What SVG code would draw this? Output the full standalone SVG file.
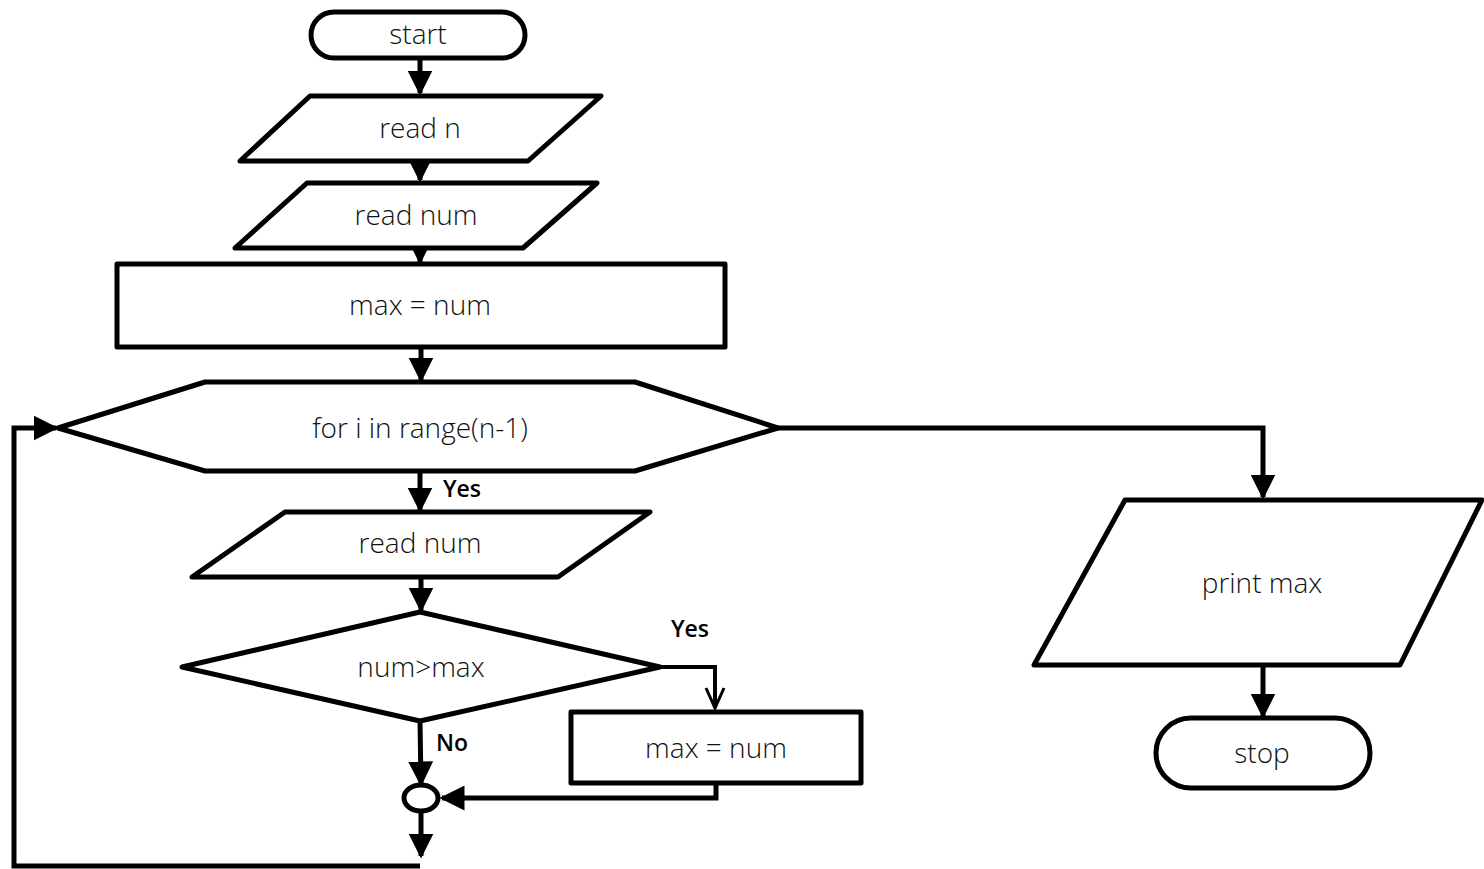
<svg xmlns="http://www.w3.org/2000/svg" width="1484" height="869" viewBox="0 0 1484 869">
<style>
.s{fill:#fff;stroke:#000;stroke-width:5;stroke-linejoin:round}
.c{fill:none;stroke:#000;stroke-width:5;stroke-linejoin:miter}
.t{font-family:"Open Sans","Noto Sans",sans-serif;font-size:28px;font-weight:300;fill:#111;text-anchor:middle;dominant-baseline:central}
.l{font-family:"Open Sans","Noto Sans",sans-serif;font-size:23px;font-weight:600;fill:#000}
</style>
<defs>
<marker id="a" markerWidth="5" markerHeight="5" refX="4.5" refY="2.5" orient="auto" markerUnits="strokeWidth">
<path d="M0,0 L5,2.5 L0,5 z" fill="#000"/>
</marker>
</defs>
<rect width="1484" height="869" fill="#fff"/>
<g id="connectors">
<path class="c" d="M420,58 V93" marker-end="url(#a)"/>
<path class="c" d="M420,161 V180" marker-end="url(#a)"/>
<path class="c" d="M420,248 V262" marker-end="url(#a)"/>
<path class="c" d="M421,347 V380" marker-end="url(#a)"/>
<path class="c" d="M778,428 H1263 V497" marker-end="url(#a)"/>
<path class="c" d="M1263,665 V716" marker-end="url(#a)"/>
<path class="c" d="M420,471 V510" marker-end="url(#a)"/>
<path class="c" d="M421,577 V610" marker-end="url(#a)"/>
<path class="c" d="M660,667 H715 V708" style="stroke-width:4"/>
<path d="M706,688 L715,708 L724,688" fill="none" stroke="#000" stroke-width="3"/>
<path class="c" d="M420,721 L421,784" marker-end="url(#a)"/>
<path class="c" d="M716,783 V798 H442" marker-end="url(#a)"/>
<path class="c" d="M421,811 V856" marker-end="url(#a)"/>
<path class="c" d="M420,866 H14 V428 H56" marker-end="url(#a)"/>
<text class="l" x="443" y="497">Yes</text>
<text class="l" x="671" y="637">Yes</text>
<text class="l" x="436" y="751">No</text>
</g>
<g id="start">
<rect class="s" x="311" y="12" width="214" height="46" rx="23"/>
<text class="t" x="418" y="33">start</text>
</g>
<g id="readn">
<polygon class="s" points="310,96 601,96 528,161 240,161"/>
<text class="t" x="420" y="127">read n</text>
</g>
<g id="readnum1">
<polygon class="s" points="307,183 597,183 523,248 235,248"/>
<text class="t" x="416" y="214">read num</text>
</g>
<g id="init">
<rect class="s" x="117" y="264" width="608" height="83"/>
<text class="t" x="420" y="304">max = num</text>
</g>
<g id="loop">
<polygon class="s" points="58,428 205,382 635,382 778,428 635,471 205,471"/>
<text class="t" x="420" y="427">for i in range(n-1)</text>
</g>
<g id="readnum2">
<polygon class="s" points="285,512 650,512 558,577 192,577"/>
<text class="t" x="420" y="542">read num</text>
</g>
<g id="cond">
<polygon class="s" points="420,612 660,667 420,721 182,667"/>
<text class="t" x="421" y="666">num&gt;max</text>
</g>
<g id="update">
<rect class="s" x="571" y="712" width="290" height="71"/>
<text class="t" x="716" y="747">max = num</text>
</g>
<g id="junction">
<ellipse class="s" cx="421" cy="798" rx="17" ry="13"/>
</g>
<g id="print">
<polygon class="s" points="1125,500 1482,500 1400,665 1034,665"/>
<text class="t" x="1262" y="582">print max</text>
</g>
<g id="stop">
<rect class="s" x="1156" y="718" width="214" height="70" rx="35"/>
<text class="t" x="1262" y="752">stop</text>
</g>
</svg>
